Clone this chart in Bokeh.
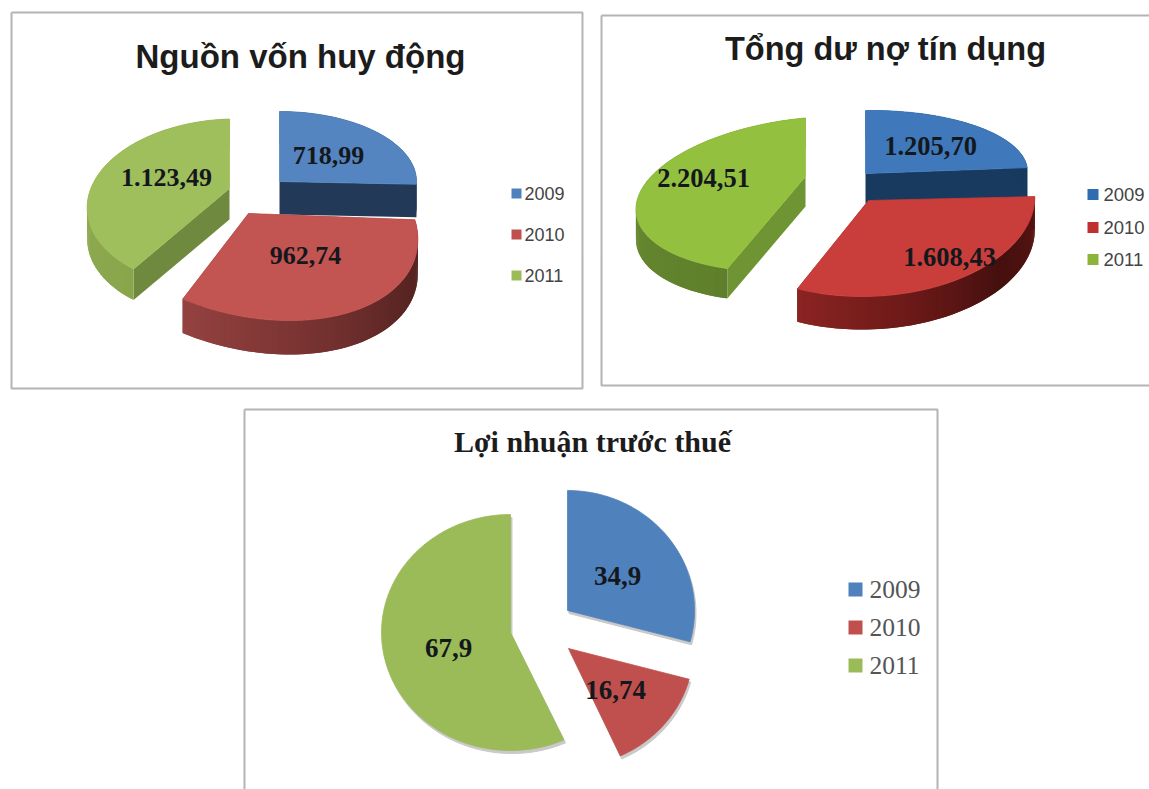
import numpy as np
from bokeh.core.properties import value
from bokeh.embed import file_html
from bokeh.plotting import figure
from bokeh.resources import INLINE

# Values per year for each of the three panels
years = ["2009", "2010", "2011"]
funding_values = [718.99, 962.74, 1123.49]
funding_labels = ["718,99", "962,74", "1.123,49"]
credit_values = [1205.70, 1608.43, 2204.51]
credit_labels = ["1.205,70", "1.608,43", "2.204,51"]
profit_values = [34.9, 16.74, 67.9]
profit_labels = ["34,9", "16,74", "67,9"]

WIDTH, HEIGHT = 1149, 789
p = figure(width=WIDTH, height=HEIGHT, x_range=(0, WIDTH), y_range=(HEIGHT, 0),
           output_backend="svg", toolbar_location=None, min_border=0,
           background_fill_color="white", border_fill_color="white")
p.axis.visible = False
p.grid.visible = False
p.outline_line_color = None


def hex_rgb(c):
    return np.array([int(c[i:i + 2], 16) for i in (1, 3, 5)], dtype=float)


def ramp(stops, t):
    pos = t * (len(stops) - 1)
    i = min(int(pos), len(stops) - 2)
    mix = hex_rgb(stops[i]) * (1 - (pos - i)) + hex_rgb(stops[i + 1]) * (pos - i)
    return "#%02x%02x%02x" % tuple(int(round(v)) for v in mix)


def project(th, g):
    """Map a pie angle (clockwise from 12 o'clock) on to the tilted disc."""
    s = 1 / (1 + g.get("k", 0) * np.cos(th))
    x = (g["rx"] * np.sin(th) + g.get("shear", 0) * np.cos(th)) * s
    y = (-g["ry"] * np.cos(th) - g.get("tilt", 0) * np.sin(th)) * s
    return g["ax"] + x, g["ay"] + y


def draw_slice(a0, a1, g, color, wall=None, radial=None, shadow=None):
    th = np.radians(np.arange(a0, a1 + 0.5, 1.0))
    th[-1] = np.radians(a1)
    ax_, ay_ = g["ax"], g["ay"]
    ox, oy = project(th, g)
    xs, ys, cs = [], [], []
    d = g.get("depth", 0)
    if d:
        # radial walls, then the outer rim; each rim strip overlaps the next to hide seams
        for i in (0, -1):
            xs.append([ax_, ox[i], ox[i], ax_])
            ys.append([ay_, oy[i], oy[i] + d, ay_ + d])
            cs.append(radial)
        n = len(th) - 1
        for i in range(n):
            j = min(i + 2, n)
            xs.append([ox[i], ox[j], ox[j], ox[i]])
            ys.append([oy[i], oy[j], oy[j] + d, oy[i] + d])
            cs.append(ramp(wall, i / max(n - 1, 1)))
        p.patches(xs, ys, fill_color=cs, line_color=None)
    fx = np.concatenate([[ax_], ox])
    fy = np.concatenate([[ay_], oy])
    if shadow:
        p.patch(fx + 1.5, fy + 3, fill_color=shadow, line_color=shadow, line_width=1)
    p.patch(fx, fy, fill_color=color, line_color=color, line_width=0.8)


def spans(vals):
    v = np.array(vals, dtype=float)
    edges = np.concatenate([[0], np.cumsum(v) / v.sum() * 360])
    return edges[:-1], edges[1:]


def draw_frame(x0, y0, x1, y1, color="#b4b4b4", w=2):
    p.line([x0, x1, x1, x0, x0], [y0, y0, y1, y1, y0], line_color=color, line_width=w)


def draw_legend(x, ys, size, tx, font, fsize, colors, tcolor="#444444"):
    p.quad(left=[x] * 3, right=[x + size] * 3,
           top=[y - size / 2 for y in ys], bottom=[y + size / 2 for y in ys],
           fill_color=colors, line_color=None)
    p.text([tx] * 3, ys, text=years, text_font=value(font), text_font_size=fsize,
           text_color=tcolor, text_align="left", text_baseline="middle")


def draw_labels(xs, ys, labels, size):
    p.text(xs, ys, text=labels, text_font=value("Liberation Serif"), text_font_size=size,
           text_font_style="bold", text_color="#14181c", text_align="center",
           text_baseline="middle")


# Left panel: funding raised
draw_frame(11, 12, 582, 388)
p.text([300], [56], text=["Nguồn vốn huy động"], text_font=value("Liberation Sans"),
       text_font_size="33px", text_font_style="bold", text_color="#1c1c1c",
       text_align="center", text_baseline="middle")
st, en = spans(funding_values)
draw_slice(st[0], en[0], dict(ax=279, ay=181, rx=137, ry=70, depth=33), "#5585c0",
           wall=["#223a57", "#223a57"], radial="#223a57")
draw_slice(st[2], en[2], dict(ax=229, ay=188, rx=140, ry=82, k=0.18, tilt=4, depth=31), "#9fbe5c",
           wall=["#8aa64c", "#90ac52", "#8aa64c"], radial="#6f8a3e")
draw_slice(st[1], en[1], dict(ax=248, ay=213, rx=165, ry=107, shear=-38, tilt=-2, depth=34), "#c25451",
           wall=["#4e201e", "#5d2725", "#7a3432", "#944240"], radial="#5d2725")
draw_labels([328, 305, 166], [155, 255, 177], funding_labels, "26px")
draw_legend(511, [193, 234, 275], 10, 524, "Liberation Sans", "18px",
            ["#4f81bd", "#c0504d", "#9bbb59"])

# Right panel: total credit outstanding
draw_frame(601, 15, 1152, 385)
p.text([885], [48], text=["Tổng dư nợ tín dụng"], text_font=value("Liberation Sans"),
       text_font_size="32.5px", text_font_style="bold", text_color="#1c1c1c",
       text_align="center", text_baseline="middle")
st, en = spans(credit_values)
draw_slice(st[0], en[0], dict(ax=865, ay=173, rx=162, ry=63, tilt=2, depth=30), "#3f78bb",
           wall=["#173a5e", "#173a5e"], radial="#173a5e")
draw_slice(st[2], en[2], dict(ax=805, ay=176, rx=165, ry=72, k=0.23, tilt=15, depth=30), "#94c040",
           wall=["#5f7f2c", "#6a8c32", "#688a30"], radial="#6f9433")
draw_slice(st[1], en[1], dict(ax=868, ay=200, rx=166, ry=96, shear=10, tilt=-2, depth=33), "#c93e3b",
           wall=["#5a1412", "#45100f", "#6c1a18", "#8a2422"], radial="#45100f")
draw_labels([930, 949, 703], [145, 256, 177], credit_labels, "26.5px")
draw_legend(1087, [194, 227, 259], 11, 1103, "Liberation Sans", "18.5px",
            ["#2f6db0", "#c0302e", "#8db43a"])

# Lower panel: pre-tax profit
draw_frame(244, 409, 937, 795)
p.text([592], [441], text=["Lợi nhuận trước thuế"], text_font=value("Liberation Serif"),
       text_font_size="30px", text_font_style="bold", text_color="#1c1c1c",
       text_align="center", text_baseline="middle")
st, en = spans(profit_values)
draw_slice(st[0], en[0], dict(ax=567, ay=610, rx=127, ry=120), "#4f81bd", shadow="#c9c9c9")
draw_slice(st[1], en[1], dict(ax=568, ay=648, rx=125, ry=118), "#c0504d", shadow="#c9c9c9")
draw_slice(st[2], en[2], dict(ax=510, ay=632, rx=129, ry=118), "#9bbb59", shadow="#c9c9c9")
draw_labels([617, 615, 448], [575, 689, 647], profit_labels, "27px")
draw_legend(848, [589, 627, 665], 14, 869, "Liberation Serif", "25.5px",
            ["#4f81bd", "#c0504d", "#9bbb59"], tcolor="#555555")

open("out.html", "w").write(file_html(p, INLINE))
